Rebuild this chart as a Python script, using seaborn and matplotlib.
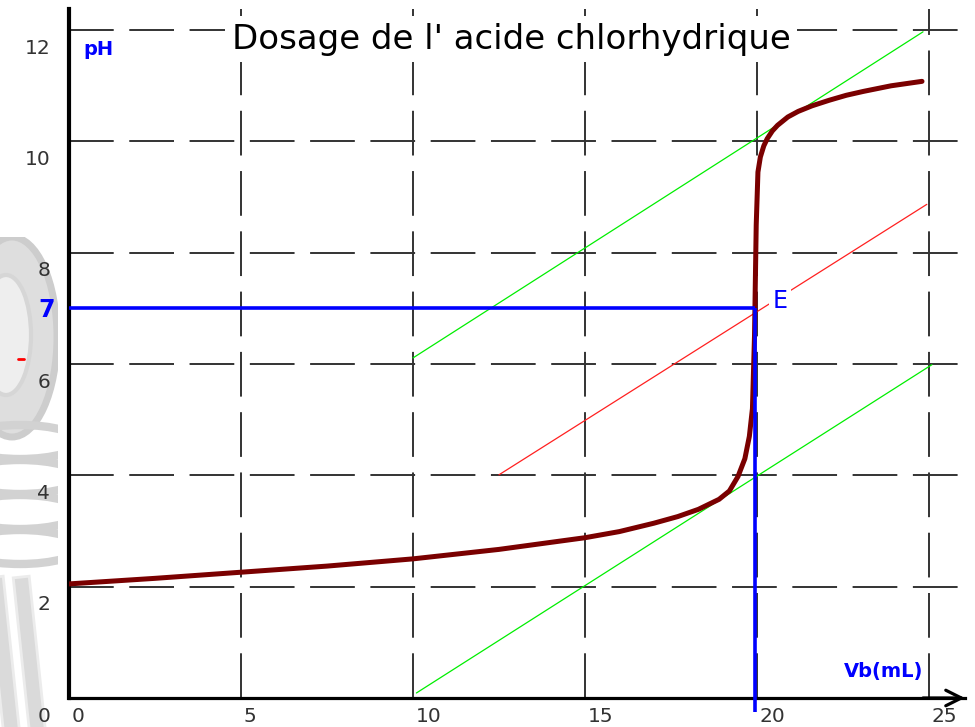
import matplotlib
matplotlib.use("Agg")
import matplotlib.pyplot as plt
import matplotlib.transforms as mtransforms
from matplotlib.patches import Ellipse, Rectangle
import seaborn as sns

# titration curve (volume of base in mL, pH)
vb = [0, 2.5, 5, 7.5, 10, 12.5, 15, 16.0, 17.0, 17.7, 18.3, 18.9, 19.2,
      19.45, 19.65, 19.78, 19.87, 19.93, 19.98, 20.03, 20.1, 20.2, 20.3,
      20.45, 20.6, 20.9, 21.2, 21.6, 22.1, 22.6, 23.1, 23.9, 24.8]
ph = [2.05, 2.15, 2.26, 2.37, 2.50, 2.67, 2.88, 2.99, 3.14, 3.26, 3.39,
      3.57, 3.72, 3.98, 4.3, 4.7, 5.2, 6.5, 8.5, 9.45, 9.72, 9.92, 10.05,
      10.19, 10.29, 10.44, 10.54, 10.64, 10.74, 10.83, 10.9, 11.0, 11.08]

# tangents method lines
high_vb = [10.0, 24.83]
high_ph = [6.11, 11.97]
low_vb = [10.1, 25.09]
low_ph = [0.09, 5.99]
mid_vb = [12.5, 24.94]
mid_ph = [4.01, 8.87]

# equivalence point
v_eq = 19.95
ph_eq = 7.0

x_ticks = [0, 5, 10, 15, 20, 25]
y_ticks = [0, 2, 4, 6, 8, 10, 12]

sns.set_theme(style="white")
plt.rcParams['font.family'] = ['DejaVu Sans']

fig = plt.figure(figsize=(9.75, 7.27), dpi=100)

# grey decoration on the left edge
deco = fig.add_axes([0, 0, 58 / 975, 490 / 727], zorder=0)
deco.set_xlim(0, 58)
deco.set_ylim(0, 490)
deco.axis('off')
deco.add_patch(Ellipse((12, 390), 90, 200, fc='#dedede', ec='#cdcdcd', lw=5))
deco.add_patch(Ellipse((6, 392), 50, 120, fc='#eeeeee', ec='#d6d6d6', lw=3))
for yy in [285, 250, 215, 180]:
    deco.add_patch(Ellipse((20, yy), 120, 34, fc='none', ec='#d2d2d2', lw=6))
for xx in [4, 30]:
    deco.add_patch(Rectangle((xx, -10), 16, 160, angle=6, fc='#dadada', ec='#ececec', lw=2))

ax = fig.add_axes([69 / 975, 29 / 727, 896 / 975, 689 / 727], zorder=1)
ax.set_xlim(0, 26.05)
ax.set_ylim(0, 12.38)
ax.patch.set_alpha(0)

ax.set_xticks(x_ticks)
ax.set_yticks(y_ticks)
ax.set_xticklabels([str(v) for v in x_ticks])
ax.set_yticklabels([str(v) for v in y_ticks])
ax.tick_params(length=0, labelsize=14.5, labelcolor='#333333')
ax.tick_params(axis='y', pad=13.5)
ax.tick_params(axis='x', pad=6.5)
ax.grid(True, color='#333333', lw=1.4, linestyle=(0, (23, 8)))
ax.set_axisbelow(True)

dy = mtransforms.ScaledTranslation(0, -16 / 100, fig.dpi_scale_trans)
for lab in ax.get_yticklabels():
    lab.set_transform(lab.get_transform() + dy)
dx = mtransforms.ScaledTranslation(3 / 100, 0, fig.dpi_scale_trans)
for lab in ax.get_xticklabels():
    lab.set_horizontalalignment('left')
    lab.set_transform(lab.get_transform() + dx)

for side in ['top', 'right']:
    ax.spines[side].set_visible(False)
ax.spines['left'].set_linewidth(3)
ax.spines['left'].set_color('black')
ax.spines['bottom'].set_linewidth(2.3)
ax.spines['bottom'].set_color('black')
ax.annotate('', xy=(1.003, 0), xytext=(0.95, 0), xycoords='axes fraction',
            arrowprops=dict(arrowstyle='->', lw=2.3, color='black',
                            mutation_scale=28), annotation_clip=False)

# tangents and median line
sns.lineplot(x=high_vb, y=high_ph, color='#00ee00', lw=0.9, ax=ax, zorder=3)
sns.lineplot(x=low_vb, y=low_ph, color='#00ee00', lw=0.9, ax=ax, zorder=3)
sns.lineplot(x=mid_vb, y=mid_ph, color='#ff2020', lw=0.9, ax=ax, zorder=3)

# titration curve
sns.lineplot(x=vb, y=ph, color='#7a0000', lw=3.6, ax=ax, zorder=5,
             sort=False, estimator=None)

# equivalence construction
ax.plot([0, v_eq], [ph_eq, ph_eq], color='#0000ff', lw=2.6, zorder=6,
        clip_on=False, solid_capstyle='butt')
ax.plot([v_eq, v_eq], [ph_eq, -0.25], color='#0000ff', lw=2.6, zorder=6,
        clip_on=False, solid_capstyle='butt')

# title with white box over the grid
ax.text(12.85, 11.84, "Dosage de l' acide chlorhydrique", fontsize=24.5,
        color='black', ha='center', va='center', zorder=7,
        bbox=dict(boxstyle='square,pad=0.2', fc='white', ec='none'))

ax.text(0.41, 11.66, 'pH', fontsize=14, fontweight='bold', color='#0000ff',
        ha='left', va='center', zorder=7)
ax.text(23.69, 0.47, 'Vb(mL)', fontsize=14, fontweight='bold',
        color='#0000ff', ha='center', va='center', zorder=7)
ax.text(20.67, 7.13, 'E', fontsize=17, color='#0000ff', ha='center',
        va='center', zorder=7,
        bbox=dict(boxstyle='square,pad=0.15', fc='white', ec='none'))
ax.text(-0.64, 6.97, '7', fontsize=17, fontweight='bold', color='#0000ff',
        ha='center', va='center', clip_on=False, zorder=7)

# small red mark on the left
fig.add_artist(plt.Line2D([18 / 975, 24 / 975], [368 / 727, 368 / 727],
                          color='red', lw=2))

fig.savefig('out.png', dpi=100)
